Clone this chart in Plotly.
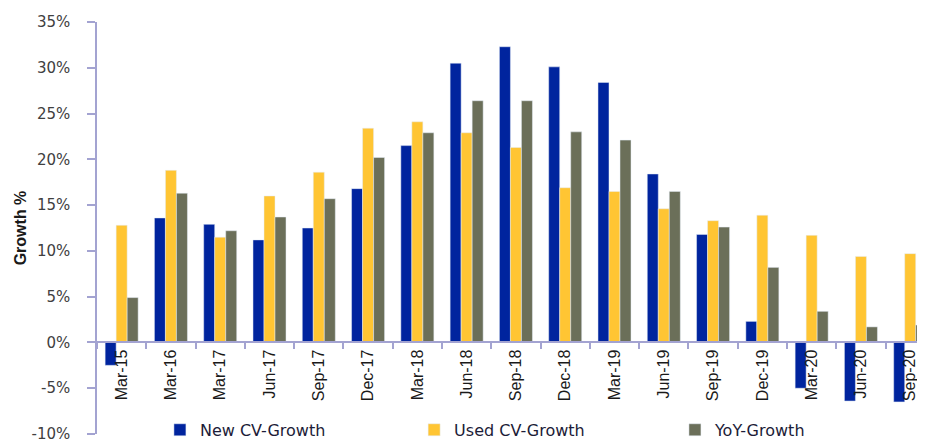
import plotly.graph_objects as go

categories = ["Mar-15", "Mar-16", "Mar-17", "Jun-17", "Sep-17", "Dec-17", "Mar-18", "Jun-18",
              "Sep-18", "Dec-18", "Mar-19", "Jun-19", "Sep-19", "Dec-19", "Mar-20", "Jun-20", "Sep-20"]
new_cv = [-2.5, 13.6, 12.9, 11.2, 12.5, 16.8, 21.5, 30.5, 32.3, 30.1, 28.4, 18.4, 11.8, 2.3, -5.0, -6.4, -6.5]
used_cv = [12.8, 18.8, 11.5, 16.0, 18.6, 23.4, 24.1, 22.9, 21.3, 16.9, 16.5, 14.6, 13.3, 13.9, 11.7, 9.4, 9.7]
yoy = [4.9, 16.3, 12.2, 13.7, 15.7, 20.2, 22.9, 26.4, 26.4, 23.0, 22.1, 16.5, 12.6, 8.2, 3.4, 1.7, 1.9]
y_ticks = [-10, -5, 0, 5, 10, 15, 20, 25, 30, 35]
y_tick_text = [f"{v}%" for v in y_ticks]

BLUE = "#00249E"
YELLOW = "#FFC533"
GRAY = "#6B6F59"
AXIS = "#A3A3D1"

fig = go.Figure()
fig.add_trace(go.Bar(x=categories, y=new_cv, name="New CV-Growth", marker_color=BLUE,
                     legend="legend", showlegend=True))
fig.add_trace(go.Bar(x=categories, y=used_cv, name="Used CV-Growth", marker_color=YELLOW,
                     legend="legend2", showlegend=True))
fig.add_trace(go.Bar(x=categories, y=yoy, name="YoY-Growth", marker_color=GRAY,
                     legend="legend3", showlegend=True))

legend_font = dict(family="DejaVu Sans", size=16, color="#1c1c38")


def leg(x):
    return dict(orientation="h", yanchor="middle", y=0.01, xanchor="left", x=x,
                font=legend_font, bgcolor="rgba(0,0,0,0)", borderwidth=0, visible=True)


# the page body has an 8px margin, so the figure is 8px smaller than the window
fig.update_layout(
    width=917, height=433,
    margin=dict(l=89, r=0, t=14, b=7, autoexpand=False),
    paper_bgcolor="white", plot_bgcolor="white",
    showlegend=True,
    barmode="group", bargap=0.33, bargroupgap=0,
    legend=leg(0.076),
    legend2=leg(0.383),
    legend3=leg(0.698),
    xaxis=dict(
        type="category", range=[-0.5, 16.3],
        anchor="free", position=10 / 45, automargin=False,
        showline=True, linecolor=AXIS, linewidth=1.5,
        ticks="outside", tickson="boundaries", ticklen=6, tickcolor=AXIS, tickwidth=1.5,
        tickangle=-90, tickfont=dict(family="Liberation Sans", size=16, color="#1a1a1a"),
        showgrid=False, zeroline=False,
    ),
    yaxis=dict(
        range=[-10, 35], tickvals=y_ticks, ticktext=y_tick_text, automargin=False,
        showline=True, linecolor=AXIS, linewidth=1.5,
        ticks="outside", ticklen=8, tickcolor=AXIS, tickwidth=1.5,
        ticklabelstandoff=14, ticklabeloverflow="allow",
        tickfont=dict(family="DejaVu Sans", size=15, color="#404040"),
        showgrid=False, zeroline=False,
        title=dict(text="Growth %", standoff=1,
                   font=dict(family="Liberation Sans", size=16, color="#1a1a1a", weight="bold")),
    ),
)

fig.write_html("out.html")
